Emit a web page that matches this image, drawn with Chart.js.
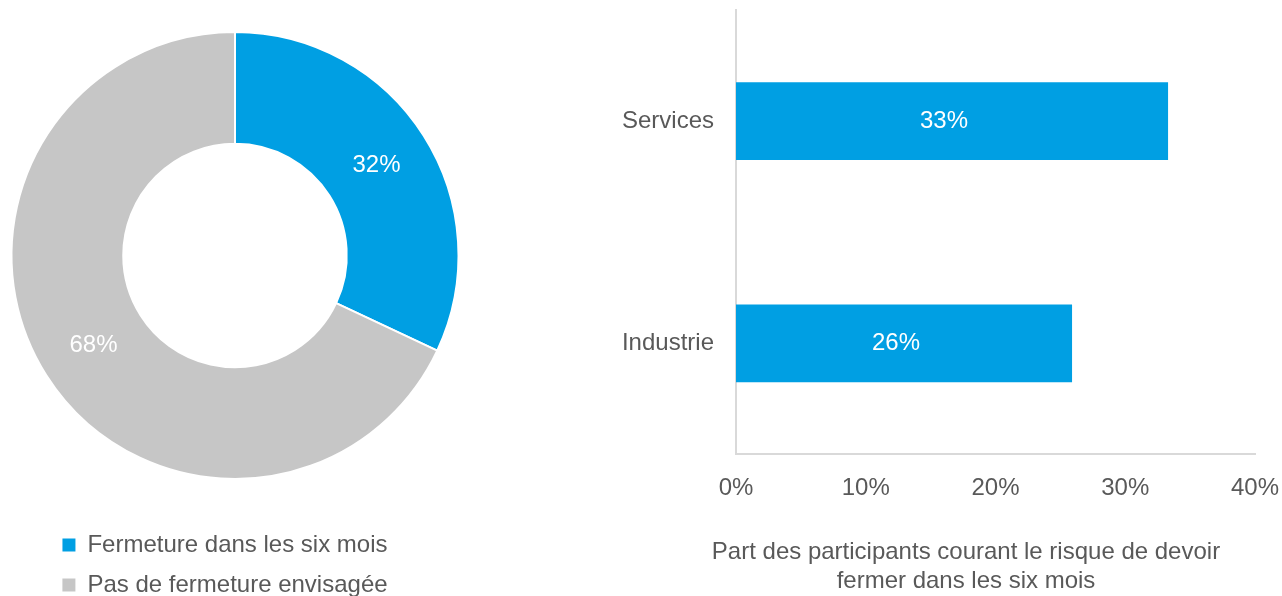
<!DOCTYPE html>
<html>
<head>
<meta charset="utf-8">
<script src="https://cdn.jsdelivr.net/npm/chart.js@4/dist/chart.umd.min.js"></script>
<style>
  html, body { margin: 0; padding: 0; background: #ffffff; overflow: hidden; width: 1282px; height: 596px; }
  #wrapDonut { position: absolute; left: 0; top: 0; width: 470px; height: 607px; }
  #wrapBar { position: absolute; left: 600px; top: 0; width: 682px; height: 596px; }
</style>
</head>
<body>
<div id="wrapDonut"><canvas id="donut" width="470" height="607"></canvas></div>
<div id="wrapBar"><canvas id="bar" width="682" height="596"></canvas></div>
<script>
// ---- Data ----
const donutLabels = ['Fermeture dans les six mois', 'Pas de fermeture envisagée'];
const donutValues = [32, 68];
const donutColors = ['#009FE3', '#C6C6C6'];

const barCategories = ['Services', 'Industrie'];
const barValues = [33.3, 25.9];
const barColor = '#009FE3';

const xTickMin = 0;
const xTickMax = 40;
const xTickStep = 10;
const barAxisTitle = ['Part des participants courant le risque de devoir', 'fermer dans les six mois'];

// ---- Style ----
const FONT = '"Liberation Sans", Arial, Helvetica, sans-serif';
const TEXT = '#595959';
const AXIS = '#D9D9D9';
Chart.defaults.font.family = FONT;
Chart.defaults.font.size = 24;
Chart.defaults.color = TEXT;

// Draws value labels in the middle of each arc / bar
const valueLabels = {
  id: 'valueLabels',
  afterDatasetsDraw(chart, args, opts) {
    const ctx = chart.ctx;
    const meta = chart.getDatasetMeta(0);
    const data = chart.data.datasets[0].data;
    ctx.save();
    ctx.fillStyle = '#ffffff';
    ctx.font = '24px ' + FONT;
    ctx.textAlign = 'center';
    ctx.textBaseline = 'middle';
    meta.data.forEach((el, i) => {
      let x, y;
      if (chart.config.type === 'doughnut') {
        const p = el.tooltipPosition();
        x = p.x; y = p.y;
      } else {
        x = (el.x + el.base) / 2 + (opts.dx || 0);
        y = el.y;
      }
      ctx.fillText(Math.round(data[i]) + '%', x, y);
    });
    ctx.restore();
  }
};

// Lets the category labels extend to the left of the (narrow) y-scale box
const widenLabelArea = {
  id: 'widenLabelArea',
  afterLayout(chart) {
    const y = chart.scales.y;
    y.left = 0;
  }
};

const defaultLegendLabels = Chart.controllers.doughnut.overrides.plugins.legend.labels.generateLabels;

new Chart(document.getElementById('donut'), {
  type: 'doughnut',
  data: {
    labels: donutLabels.map(l => l + '   '),
    datasets: [{
      data: donutValues,
      backgroundColor: donutColors,
      borderColor: '#ffffff',
      borderWidth: 2,
      cutout: '50%'
    }]
  },
  options: {
    responsive: false,
    animation: false,
    layout: { padding: { top: 31, left: 0, right: 0, bottom: 0 } },
    plugins: {
      tooltip: { enabled: false },
      legend: {
        position: 'bottom',
        align: 'center',
        title: { display: true, text: ' ', font: { size: 10 }, padding: { top: 0, bottom: 25 } },
        labels: {
          boxWidth: 13,
          boxHeight: 13,
          padding: 16,
          color: TEXT,
          font: { size: 24, family: FONT },
          generateLabels: chart => defaultLegendLabels(chart).map(it => Object.assign(it, { lineWidth: 0, strokeStyle: 'rgba(0,0,0,0)' }))
        }
      }
    }
  },
  plugins: [valueLabels]
});

new Chart(document.getElementById('bar'), {
  type: 'bar',
  data: {
    labels: barCategories,
    datasets: [{
      data: barValues,
      backgroundColor: barColor,
      borderWidth: 0,
      categoryPercentage: 0.35,
      barPercentage: 1.0
    }]
  },
  options: {
    indexAxis: 'y',
    responsive: false,
    animation: false,
    layout: { padding: { top: 10, right: 27, left: 77, bottom: 0 } },
    scales: {
      x: {
        min: xTickMin,
        max: xTickMax,
        ticks: {
          stepSize: xTickStep,
          padding: 20,
          color: TEXT,
          font: { size: 24, family: FONT },
          callback: v => v + '%'
        },
        grid: { display: false, drawTicks: false },
        border: { display: true, color: AXIS, width: 2 },
        afterFit: s => { s.height = 84; s.paddingLeft = 0; s.paddingRight = 0; }
      },
      y: {
        ticks: {
          padding: 22,
          color: TEXT,
          font: { size: 24, family: FONT }
        },
        grid: { display: false, drawTicks: false },
        border: { display: true, color: AXIS, width: 2 },
        afterFit: s => { s.width = 59; s.paddingTop = 0; s.paddingBottom = 0; }
      }
    },
    plugins: {
      tooltip: { enabled: false },
      legend: { display: false },
      valueLabels: { dx: -8 },
      title: {
        display: true,
        position: 'bottom',
        text: barAxisTitle,
        color: TEXT,
        font: { size: 24, family: FONT, weight: 'normal', lineHeight: 1.2 },
        padding: { top: 0, bottom: 0 }
      }
    }
  },
  plugins: [valueLabels, widenLabelArea]
});
</script>
</body>
</html>
